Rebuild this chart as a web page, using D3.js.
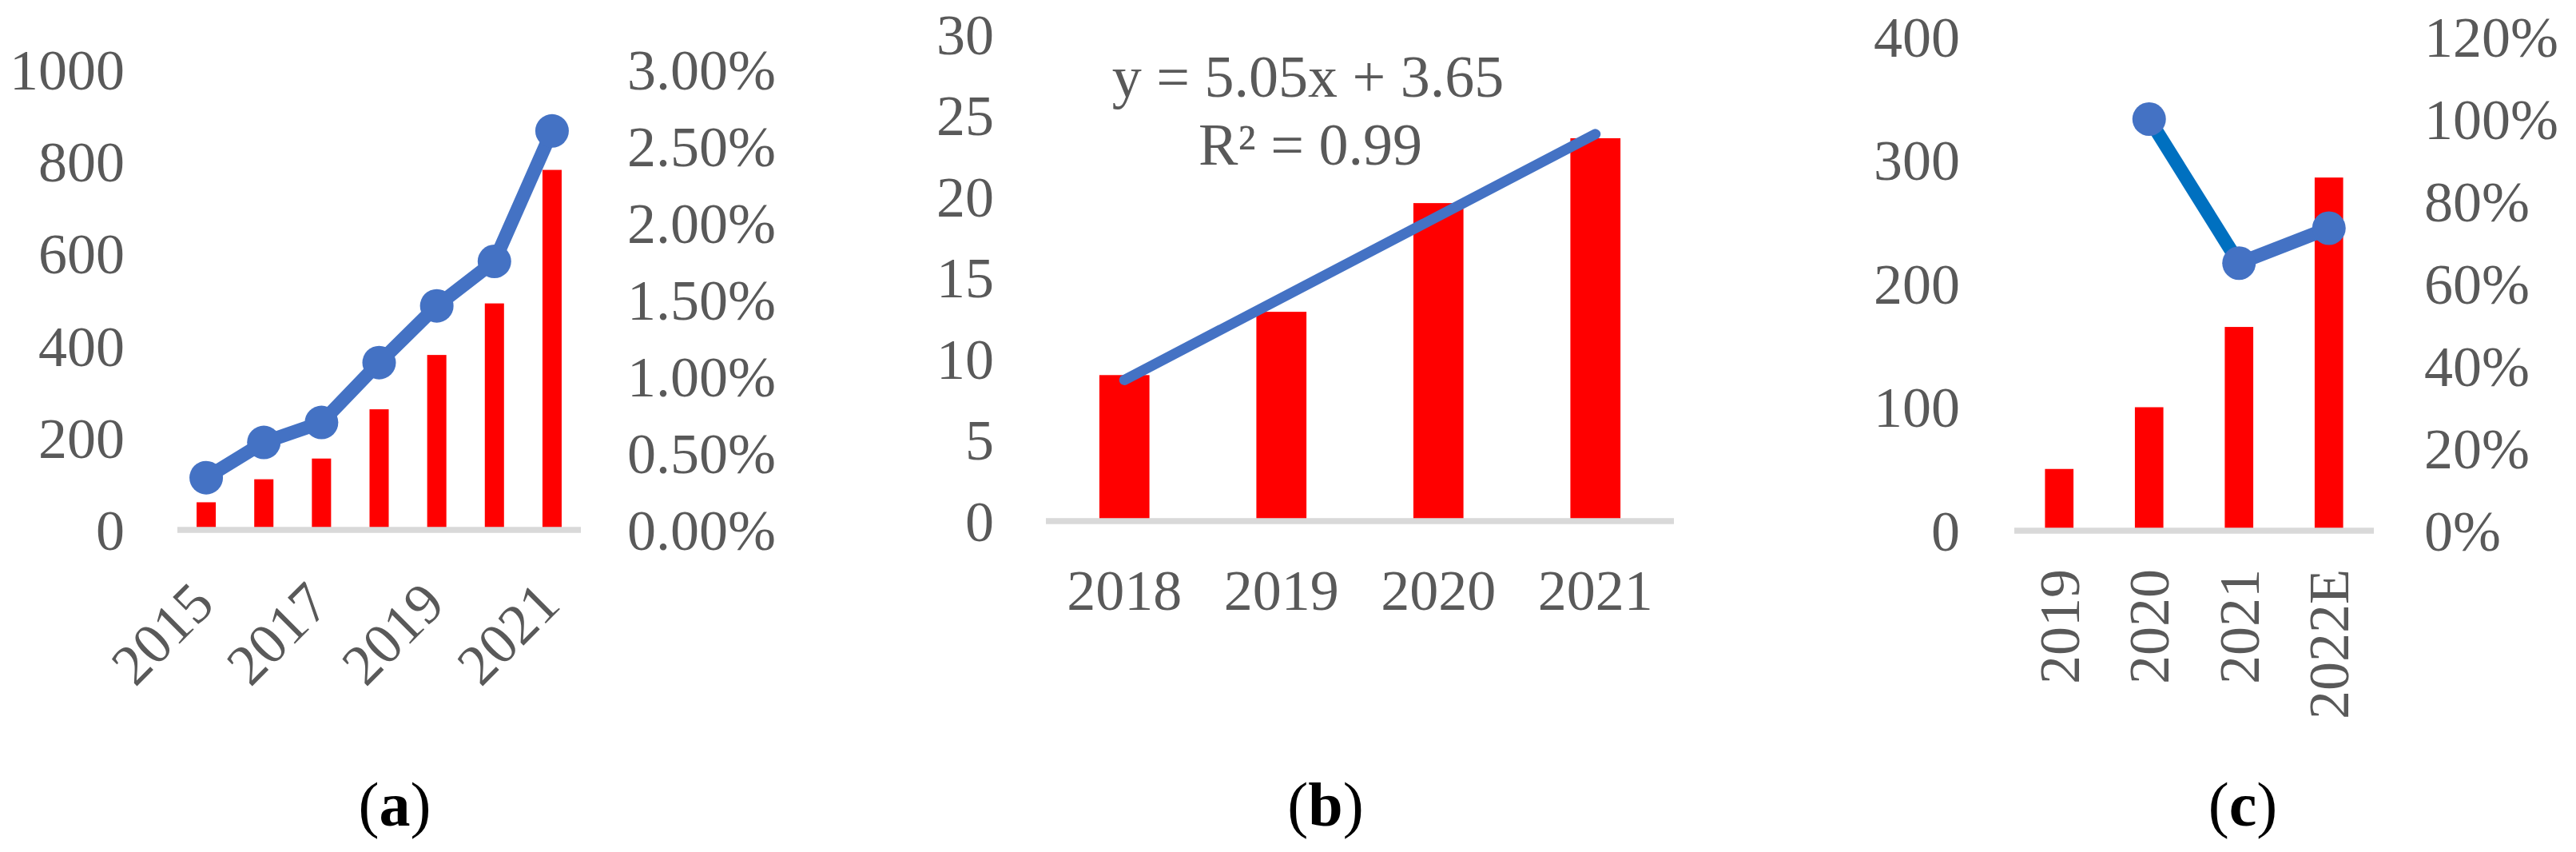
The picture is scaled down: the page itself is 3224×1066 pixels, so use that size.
<!DOCTYPE html>
<html>
<head>
<meta charset="utf-8">
<script src="https://cdn.jsdelivr.net/npm/d3@7/dist/d3.min.js"></script>
<style>
  html, body { margin: 0; padding: 0; background: #ffffff; }
  svg { display: block; }
</style>
</head>
<body>
<script>
// ---------- Data ----------
// Panel (a)
const yearsA = ["2015", "2016", "2017", "2018", "2019", "2020", "2021"];
const barsA = [60, 110, 155, 262, 380, 492, 782];
const lineA = [0.0034, 0.0057, 0.0070, 0.0109, 0.0146, 0.0175, 0.0260];
const leftTicksA = [0, 200, 400, 600, 800, 1000];
const rightTicksA = [0, 0.005, 0.01, 0.015, 0.02, 0.025, 0.03];
const shownLabelsA = ["2015", "2017", "2019", "2021"];

// Panel (b)
const yearsB = ["2018", "2019", "2020", "2021"];
const barsB = [9.0, 12.9, 19.6, 23.6];
const leftTicksB = [0, 5, 10, 15, 20, 25, 30];

// Panel (c)
const yearsC = ["2019", "2020", "2021", "2022E"];
const barsC = [50, 100, 165, 286];
const lineC = [null, 1.00, 0.65, 0.735];
const leftTicksC = [0, 100, 200, 300, 400];
const rightTicksC = [0, 0.2, 0.4, 0.6, 0.8, 1.0, 1.2];

const panelLabels = ["a", "b", "c"];

// ---------- Styles ----------
const W = 3224, H = 1066;
const FONT = "'Liberation Serif', 'Times New Roman', serif";
const TXT = "#595959";
const RED = "#FF0000";
const BLUE = "#4472C4";
const BLUE2 = "#0070C0";
const AXIS = "#D9D9D9";
const FS = 72;

const svg = d3.select("body").append("svg")
  .attr("width", W).attr("height", H)
  .attr("viewBox", `0 0 ${W} ${H}`);

function styleAxis(g) {
  g.select(".domain").remove();
  g.selectAll(".tick line").remove();
  g.attr("font-family", FONT).attr("font-size", FS);
  g.selectAll("text").attr("fill", TXT).attr("dy", "0.34em");
}

function band(domain, x0, x1, ratio) {
  const p = 1 - ratio;
  return d3.scaleBand().domain(domain).range([x0, x1])
    .paddingInner(p).paddingOuter(p / 2);
}

function baseLine(g, x0, x1, y) {
  g.append("line").attr("x1", x0).attr("x2", x1)
    .attr("y1", y).attr("y2", y)
    .attr("stroke", AXIS).attr("stroke-width", 7.5);
}

// ---------- Panel (a) ----------
{
  const g = svg.append("g");
  const x = band(yearsA, 222, 727, 0.333);
  const yL = d3.scaleLinear().domain([0, 1000]).range([663, 87]);
  const yR = d3.scaleLinear().domain([0, 0.03]).range([663, 87]);

  g.append("g").attr("transform", "translate(156,0)")
    .call(d3.axisLeft(yL).tickValues(leftTicksA).tickSize(0).tickPadding(0).tickFormat(d3.format("d")))
    .call(styleAxis);
  g.append("g").attr("transform", "translate(785,0)")
    .call(d3.axisRight(yR).tickValues(rightTicksA).tickSize(0).tickPadding(0).tickFormat(d3.format(".2%")))
    .call(styleAxis);

  g.selectAll("rect.bar").data(yearsA).join("rect")
    .attr("class", "bar")
    .attr("x", d => x(d)).attr("width", x.bandwidth())
    .attr("y", (d, i) => yL(barsA[i]))
    .attr("height", (d, i) => yL(0) - yL(barsA[i]))
    .attr("fill", RED);

  baseLine(g, 222, 727, yL(0));

  const cx = d => x(d) + x.bandwidth() / 2;
  const line = d3.line().x((d, i) => cx(yearsA[i])).y(d => yR(d));
  g.append("path").datum(lineA).attr("d", line)
    .attr("fill", "none").attr("stroke", BLUE).attr("stroke-width", 17)
    .attr("stroke-linejoin", "round");
  g.selectAll("circle").data(lineA).join("circle")
    .attr("cx", (d, i) => cx(yearsA[i])).attr("cy", d => yR(d))
    .attr("r", 21).attr("fill", BLUE);

  g.selectAll("text.xl").data(shownLabelsA).join("text")
    .attr("class", "xl")
    .attr("transform", d => `translate(${cx(d) + 13},759) rotate(-45)`)
    .attr("text-anchor", "end")
    .attr("font-family", FONT).attr("font-size", FS).attr("fill", TXT)
    .text(d => d);
}

// ---------- Panel (b) ----------
{
  const g = svg.append("g");
  const x = band(yearsB, 1309, 2095, 0.319);
  const y = d3.scaleLinear().domain([0, 30]).range([652, 43]);

  g.append("g").attr("transform", "translate(1244,0)")
    .call(d3.axisLeft(y).tickValues(leftTicksB).tickSize(0).tickPadding(0).tickFormat(d3.format("d")))
    .call(styleAxis);

  g.selectAll("rect.bar").data(yearsB).join("rect")
    .attr("class", "bar")
    .attr("x", d => x(d)).attr("width", x.bandwidth())
    .attr("y", (d, i) => y(barsB[i]))
    .attr("height", (d, i) => y(0) - y(barsB[i]))
    .attr("fill", RED);

  baseLine(g, 1309, 2095, y(0));

  // linear trend (least squares on x = 1..n)
  const xs = barsB.map((d, i) => i + 1);
  const mx = d3.mean(xs), my = d3.mean(barsB);
  const slope = d3.sum(xs.map((xv, i) => (xv - mx) * (barsB[i] - my))) /
                d3.sum(xs.map(xv => (xv - mx) ** 2));
  const intercept = my - slope * mx;
  const ssRes = d3.sum(xs.map((xv, i) => (barsB[i] - (slope * xv + intercept)) ** 2));
  const ssTot = d3.sum(barsB.map(v => (v - my) ** 2));
  const r2 = 1 - ssRes / ssTot;

  const cx = d => x(d) + x.bandwidth() / 2;
  const trend = [0, yearsB.length - 1].map(i => ({ c: yearsB[i], v: slope * (i + 1) + intercept }));
  g.append("path").datum(trend)
    .attr("d", d3.line().x(d => cx(d.c)).y(d => y(d.v)))
    .attr("fill", "none").attr("stroke", BLUE).attr("stroke-width", 13)
    .attr("stroke-linecap", "round");

  g.append("text").attr("x", 1637).attr("y", 121)
    .attr("text-anchor", "middle").attr("font-family", FONT).attr("font-size", 74).attr("fill", TXT)
    .text(`y = ${slope.toFixed(2)}x + ${intercept.toFixed(2)}`);
  g.append("text").attr("x", 1640).attr("y", 206)
    .attr("text-anchor", "middle").attr("font-family", FONT).attr("font-size", 74).attr("fill", TXT)
    .text(`R² = ${r2.toFixed(2)}`);

  g.selectAll("text.xl").data(yearsB).join("text")
    .attr("class", "xl")
    .attr("x", d => cx(d)).attr("y", 763)
    .attr("text-anchor", "middle")
    .attr("font-family", FONT).attr("font-size", FS).attr("fill", TXT)
    .text(d => d);
}

// ---------- Panel (c) ----------
{
  const g = svg.append("g");
  const x = band(yearsC, 2521, 2971, 0.317);
  const yL = d3.scaleLinear().domain([0, 400]).range([664, 46]);
  const yR = d3.scaleLinear().domain([0, 1.2]).range([664, 46]);

  g.append("g").attr("transform", "translate(2453,0)")
    .call(d3.axisLeft(yL).tickValues(leftTicksC).tickSize(0).tickPadding(0).tickFormat(d3.format("d")))
    .call(styleAxis);
  g.append("g").attr("transform", "translate(3034,0)")
    .call(d3.axisRight(yR).tickValues(rightTicksC).tickSize(0).tickPadding(0).tickFormat(d3.format(".0%")))
    .call(styleAxis);

  g.selectAll("rect.bar").data(yearsC).join("rect")
    .attr("class", "bar")
    .attr("x", d => x(d)).attr("width", x.bandwidth())
    .attr("y", (d, i) => yL(barsC[i]))
    .attr("height", (d, i) => yL(0) - yL(barsC[i]))
    .attr("fill", RED);

  baseLine(g, 2521, 2971, yL(0));

  const cx = d => x(d) + x.bandwidth() / 2;
  const pts = yearsC.map((c, i) => ({ c, v: lineC[i] })).filter(d => d.v !== null);
  const segColors = [BLUE2, BLUE];
  const segs = d3.pairs(pts);
  g.selectAll("line.seg").data(segs).join("line")
    .attr("class", "seg")
    .attr("x1", d => cx(d[0].c)).attr("y1", d => yR(d[0].v))
    .attr("x2", d => cx(d[1].c)).attr("y2", d => yR(d[1].v))
    .attr("stroke", (d, i) => segColors[i % segColors.length])
    .attr("stroke-width", 17);
  g.selectAll("circle").data(pts).join("circle")
    .attr("cx", d => cx(d.c)).attr("cy", d => yR(d.v))
    .attr("r", 21).attr("fill", BLUE);

  g.selectAll("text.xl").data(yearsC).join("text")
    .attr("class", "xl")
    .attr("transform", d => `translate(${cx(d)},712) rotate(-90)`)
    .attr("text-anchor", "end").attr("dy", "0.34em")
    .attr("font-family", FONT).attr("font-size", FS).attr("fill", TXT)
    .text(d => d);
}

// ---------- Panel labels ----------
const labelX = [494, 1659, 2807];
panelLabels.forEach((l, i) => {
  const t = svg.append("text").attr("x", labelX[i]).attr("y", 1033)
    .attr("text-anchor", "middle").attr("font-family", FONT)
    .attr("font-size", 78).attr("fill", "#000000");
  t.append("tspan").text("(");
  t.append("tspan").attr("font-weight", "bold").text(l);
  t.append("tspan").text(")");
});
</script>
</body>
</html>
